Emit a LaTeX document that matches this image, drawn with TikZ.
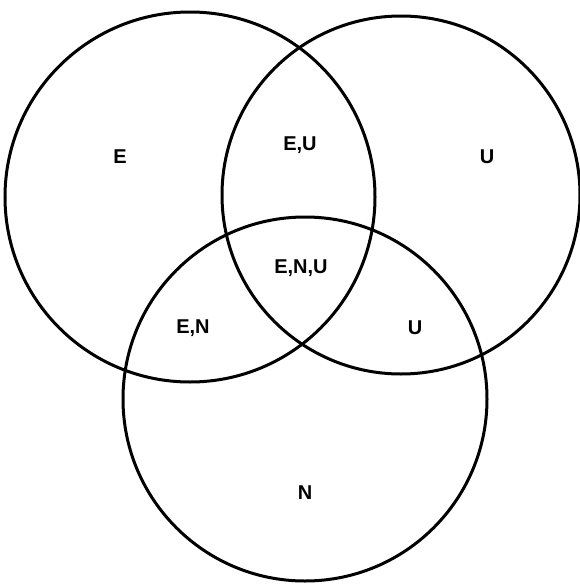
\documentclass[tikz,border=0pt]{standalone}
\usepackage{fontspec}
\setmainfont{Liberation Sans}
\usetikzlibrary{positioning}

\begin{document}
\begin{tikzpicture}[
      x=1pt, y=-1pt,
      ring/.style={circle, draw=black, line width=3pt, inner sep=0pt, outer sep=0pt},
      region/.style={font=\fontsize{20}{22}\selectfont\bfseries, inner sep=1pt}
    ]
      \useasboundingbox (0,0) rectangle (579,584);

      % the three sets
      \node[ring, minimum size=370pt] (setE) at (190,197) {};
      \node[ring, minimum size=358pt] (setU) at (401,195) {};
      \node[ring, minimum size=364pt] (setN) at (305,399) {};

      % region labels
      \node[region] (onlyE) at (120,157) {E};
      \node[region] (eu) at (300,145) {E,U};
      \node[region] (onlyU) at (487,157) {U};
      \node[region] (enu) at (301,268) {E,N,U};
      \node[region] (en) at (193,328) {E,N};
      \node[region] (nu) at (415,328) {U};
      \node[region] (onlyN) at (305,493) {N};
    \end{tikzpicture}
\end{document}
